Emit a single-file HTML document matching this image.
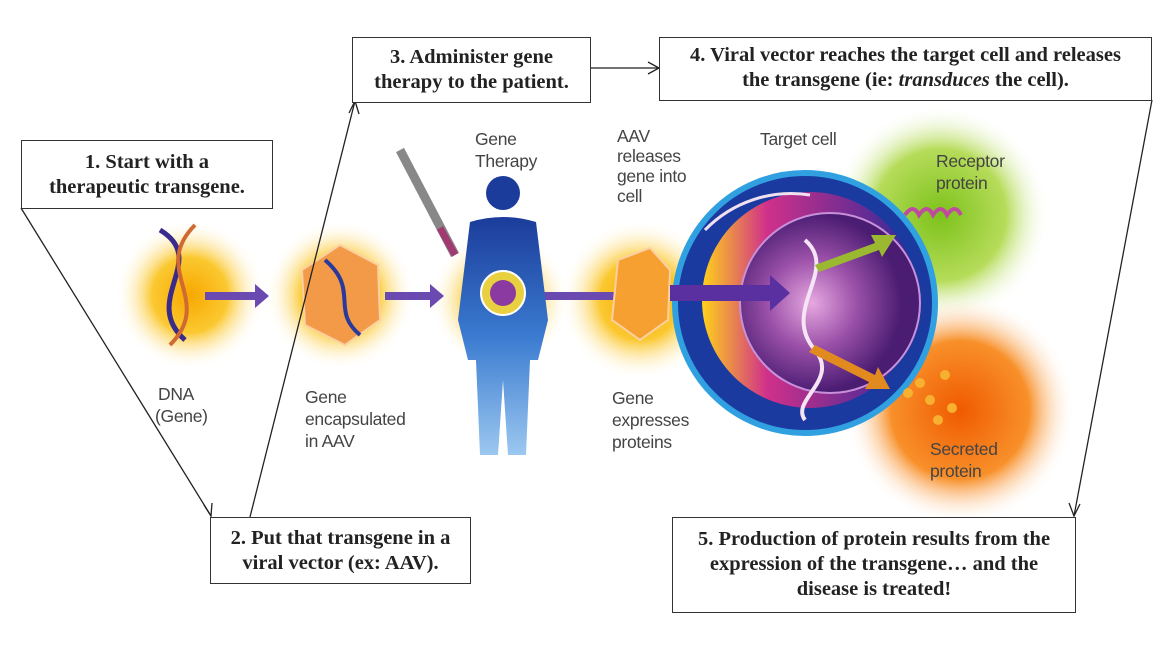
<!DOCTYPE html>
<html><head><meta charset="utf-8"><style>
body{margin:0;background:#fff;}
.b{position:absolute;border:1.5px solid #333;background:#fff;font-family:"Liberation Serif",serif;font-weight:bold;font-size:20.5px;color:#222;text-align:center;line-height:25px;box-sizing:border-box;white-space:nowrap;}
</style></head><body>
<div style="position:relative;width:1168px;height:659px;overflow:hidden">
<svg width="1168" height="659" style="position:absolute;left:0;top:0" font-family="Liberation Sans, sans-serif">
<defs>
<radialGradient id="gy"><stop offset="0" stop-color="#f7a800"/><stop offset="0.5" stop-color="#fbc830"/><stop offset="1" stop-color="#fff" stop-opacity="0"/></radialGradient>
<radialGradient id="gg"><stop offset="0" stop-color="#7cc21a"/><stop offset="0.6" stop-color="#b6dc5a"/><stop offset="1" stop-color="#fff" stop-opacity="0"/></radialGradient>
<radialGradient id="go"><stop offset="0" stop-color="#f05a00"/><stop offset="0.6" stop-color="#f8902a"/><stop offset="1" stop-color="#fff" stop-opacity="0"/></radialGradient>
<radialGradient id="gc" cx="0.4" cy="0.5"><stop offset="0" stop-color="#e6a8e0"/><stop offset="0.5" stop-color="#9a50a8"/><stop offset="1" stop-color="#4a1c72"/></radialGradient>
<linearGradient id="body" x1="0" y1="0" x2="0" y2="1"><stop offset="0" stop-color="#1b3c9a"/><stop offset="0.5" stop-color="#3a7ad0"/><stop offset="1" stop-color="#9cc8f0"/></linearGradient>
<linearGradient id="ring" x1="0" y1="0" x2="1" y2="0"><stop offset="0" stop-color="#ffd21a"/><stop offset="0.3" stop-color="#d0308a"/><stop offset="1" stop-color="#2a2a9a"/></linearGradient>
</defs>
<circle cx="190" cy="295" r="75" fill="url(#gy)"/>
<circle cx="340" cy="295" r="75" fill="url(#gy)"/>
<circle cx="500" cy="300" r="70" fill="url(#gy)" opacity="0.8"/>
<circle cx="640" cy="300" r="80" fill="url(#gy)"/>
<circle cx="940" cy="215" r="110" fill="url(#gg)"/>
<circle cx="960" cy="410" r="115" fill="url(#go)"/>
<path d="M160 230 C210 260,140 300,185 340" stroke="#3a2a8a" stroke-width="5" fill="none"/>
<path d="M195 225 C150 270,215 300,170 345" stroke="#d06a30" stroke-width="4" fill="none"/>
<path d="M205 292h50v-8l14 12-14 12v-8h-50z" fill="#6a4ab0"/>
<path d="M385 292h45v-8l14 12-14 12v-8h-45z" fill="#6a4ab0"/>
<path d="M530 292h85v-8l14 12-14 12v-8h-85z" fill="#6a4ab0"/>
<polygon points="340,245 378,265 380,320 345,345 305,325 302,270" fill="#f29a48" stroke="#fcd0a0" stroke-width="2"/>
<path d="M325 260 C360 290,330 310,360 335" stroke="#2a3a9a" stroke-width="4" fill="none"/>
<line x1="400" y1="150" x2="455" y2="255" stroke="#888" stroke-width="9"/>
<line x1="440" y1="228" x2="455" y2="255" stroke="#a03a70" stroke-width="7"/>
<circle cx="503" cy="193" r="17" fill="#1b3c9a"/>
<path d="M470 222 Q503 212 536 222 L548 320 L538 360 L530 360 L526 455 L508 455 L503 380 L498 455 L480 455 L476 360 L468 360 L458 320 Z" fill="url(#body)"/>
<circle cx="503" cy="293" r="22" fill="#e8d040" stroke="#fff" stroke-width="2"/>
<circle cx="503" cy="293" r="13" fill="#8a3aa0"/>
<circle cx="805" cy="303" r="130" fill="#1a3aa0" stroke="#30a0e0" stroke-width="6"/>
<circle cx="810" cy="300" r="108" fill="url(#ring)"/>
<path d="M705 230 A120 120 0 0 1 810 195" stroke="#f0e0f0" stroke-width="3" fill="none"/>
<circle cx="830" cy="303" r="90" fill="url(#gc)" stroke="#c890d8" stroke-width="2"/>
<polygon points="618,260 650,248 670,270 668,320 640,340 612,320" fill="#f5a030" stroke="#fcd0a0" stroke-width="2"/>
<path d="M670 285h100v-10l20 18-20 18v-10h-100z" fill="#5a30a0"/>
<path d="M805 240 C840 270,780 310,815 350 C840 380,790 400,805 420" stroke="#f4e4f4" stroke-width="4" fill="none"/>
<path d="M815 265l60-22-4-8 25 0-14 22-3-7-60 22z" fill="#9ab830"/>
<path d="M815 345l60 30 3-8 12 22-25 0 4-7-60-30z" fill="#e08a20"/>
<path d="M905 215 q8-12 14 0 q8-12 14 0 q8-12 14 0 q8-12 14 0" stroke="#c04aa0" stroke-width="4" fill="none"/>
<g fill="#f7b030"><circle cx="908" cy="393" r="5"/><circle cx="920" cy="383" r="5"/><circle cx="930" cy="400" r="5"/><circle cx="945" cy="375" r="5"/><circle cx="952" cy="408" r="5"/><circle cx="938" cy="420" r="5"/></g>
<g fill="#444" font-size="17.5" letter-spacing="-0.3">
<text x="158" y="400">DNA</text><text x="155" y="422">(Gene)</text>
<text x="305" y="403">Gene</text><text x="305" y="425">encapsulated</text><text x="305" y="447">in AAV</text>
<text x="475" y="145">Gene</text><text x="475" y="167">Therapy</text>
<text x="617" y="142">AAV</text><text x="617" y="162">releases</text><text x="617" y="182">gene into</text><text x="617" y="202">cell</text>
<text x="612" y="404">Gene</text><text x="612" y="426">expresses</text><text x="612" y="448">proteins</text>
<text x="760" y="145">Target cell</text>
<text x="936" y="167">Receptor</text><text x="936" y="189">protein</text>
<text x="930" y="455">Secreted</text><text x="930" y="477">protein</text>
</g>
<g stroke="#222" stroke-width="1.3" fill="none">
<line x1="21" y1="208" x2="211" y2="516"/><path d="M204 505l7 11 1-13"/>
<line x1="250" y1="517" x2="355" y2="101"/><path d="M349 113l6-12 4 13"/>
<line x1="590" y1="68" x2="659" y2="68"/><path d="M648 62l11 6-11 6"/>
<line x1="1152" y1="100" x2="1074" y2="516"/><path d="M1069 503l5 13 6-12"/>
</g>
</svg>
<div class="b" style="left:21px;top:140px;width:252px;height:69px;padding-top:9px">1. Start with a<br>therapeutic transgene.</div>
<div class="b" style="left:210px;top:517px;width:261px;height:67px;padding-top:8px">2. Put that transgene in a<br>viral vector (ex: AAV).</div>
<div class="b" style="left:352px;top:37px;width:239px;height:66px;padding-top:7px">3. Administer gene<br>therapy to the patient.</div>
<div class="b" style="left:659px;top:37px;width:493px;height:64px;padding-top:5px">4. Viral vector reaches the target cell and releases<br>the transgene (ie: <i>transduces</i> the cell).</div>
<div class="b" style="left:672px;top:517px;width:404px;height:96px;padding-top:9px">5. Production of protein results from the<br>expression of the transgene… and the<br>disease is treated!</div>
</div>
</body></html>
